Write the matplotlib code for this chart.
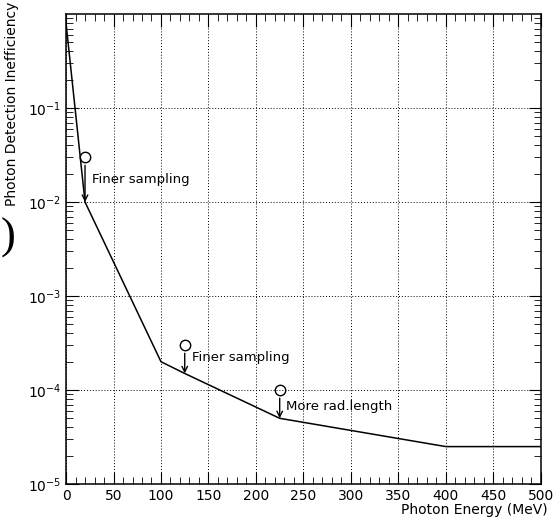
import matplotlib
matplotlib.use("Agg")
import matplotlib.pyplot as plt
from matplotlib.ticker import MultipleLocator, LogLocator, NullFormatter

# Data
energy = [0, 20, 100, 125, 225, 400, 500]
ineff = [0.8, 1e-2, 2e-4, 1.5e-4, 5e-5, 2.5e-5, 2.5e-5]

marker_x = [20, 125, 225]
marker_y = [3e-2, 3e-4, 1e-4]
arrow_tip_y = [1e-2, 1.5e-4, 5e-5]
notes = ["Finer sampling", "Finer sampling", "More rad.length"]
note_x = [27, 133, 232]
note_y = [1.75e-2, 2.2e-4, 6.6e-5]

fig = plt.figure(figsize=(5.53, 5.22), dpi=100)
ax = fig.add_axes([0.1194, 0.0728, 0.8586, 0.9002])

ax.plot(energy, ineff, color='black', lw=1.1)
ax.plot(marker_x, marker_y, 'o', mfc='none', mec='black', ms=7.5, mew=1.0)
for mx, my, ty in zip(marker_x, marker_y, arrow_tip_y):
    ax.annotate('', xy=(mx, ty), xytext=(mx, my * 0.82),
                arrowprops=dict(arrowstyle='->', color='black', lw=1.0,
                                shrinkA=0, shrinkB=0, mutation_scale=10))
for t, x, y in zip(notes, note_x, note_y):
    ax.text(x, y, t, fontsize=9.5, ha='left', va='center')

ax.set_yscale('log')
ax.set_xlim(0, 500)
ax.set_ylim(1e-5, 1)
ax.xaxis.set_major_locator(MultipleLocator(50))
ax.xaxis.set_minor_locator(MultipleLocator(10))
ax.set_yticks([1e-5, 1e-4, 1e-3, 1e-2, 1e-1])
ax.yaxis.set_minor_locator(LogLocator(base=10, subs=range(2, 10), numticks=20))
ax.yaxis.set_minor_formatter(NullFormatter())
ax.tick_params(which='both', direction='in', top=True, right=True, labelsize=10)
ax.tick_params(which='major', length=9)
ax.tick_params(which='minor', length=5)
ax.grid(True, which='major', linestyle=(0, (1, 2)), color='black', lw=0.7)
for s in ax.spines.values():
    s.set_linewidth(1.1)

fig.text(548 / 553, 1 - 510 / 522, 'Photon Energy (MeV)', ha='right', va='center', fontsize=10)
fig.text(12 / 553, 1 - 2 / 522, 'Photon Detection Inefficiency', rotation=90,
         ha='center', va='top', fontsize=10)
fig.text(0.5 / 553, 1 - 238 / 522, ')', ha='left', va='center', fontsize=32,
         family='Liberation Serif')

fig.savefig('out.png', dpi=100)
